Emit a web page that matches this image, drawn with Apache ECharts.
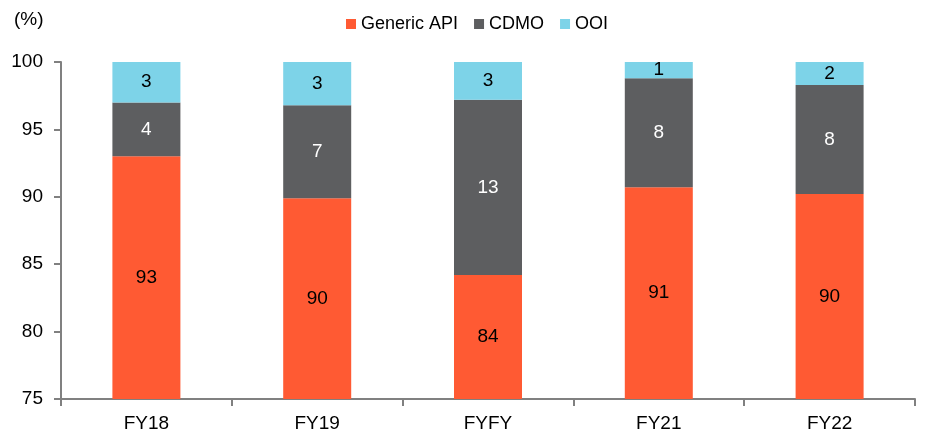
<!DOCTYPE html>
<html><head><meta charset="utf-8">
<script src="https://cdn.jsdelivr.net/npm/echarts@6/dist/echarts.min.js"></script>
<style>html,body{margin:0;padding:0;background:#fff}#c{width:949px;height:436px}</style>
</head><body><div id="c"></div>
<script>
const categories = ['FY18','FY19','FYFY','FY21','FY22'];
const genericAPI = [93.0, 89.9, 84.2, 90.7, 90.2];
const cdmo = [4.0, 6.9, 13.0, 8.1, 8.1];
const ooi = [3.0, 3.2, 2.8, 1.2, 1.7];
const yTicks = [75, 80, 85, 90, 95, 100];

const FONT = '"Liberation Sans", Arial, sans-serif';
const FS = 19;
const chart = echarts.init(document.getElementById('c'));
const lbl = (color) => ({show:true, position:'inside', color:color, fontFamily:FONT, fontSize:FS,
  formatter: p => Math.round(p.value)});
chart.setOption({
  animation:false,
  textStyle:{fontFamily:FONT},
  grid:{left:61, right:34, top:62, bottom:37, containLabel:false},
  legend:{top:10, left:341, itemWidth:10, itemHeight:10, itemGap:16,
    icon:'rect', textStyle:{fontFamily:FONT, fontSize:18, color:'#000', padding:[0,0,0,0]},
    data:['Generic API','CDMO','OOI']},
  graphic:[{type:'text', left:14, top:10, style:{text:'(%)', font:FS+'px '+FONT, fill:'#000'}}],
  xAxis:{type:'category', data:categories,
    axisLine:{lineStyle:{color:'#808080', width:2}},
    axisTick:{show:true, length:7, lineStyle:{color:'#808080', width:2}},
    axisLabel:{color:'#000', fontSize:FS, fontFamily:FONT, margin:15}},
  yAxis:{type:'value', min:75, max:100, interval:5,
    axisLine:{show:true, lineStyle:{color:'#808080', width:2}},
    axisTick:{show:true, length:7, lineStyle:{color:'#808080', width:2}},
    splitLine:{show:false},
    axisLabel:{color:'#000', fontSize:FS, fontFamily:FONT, margin:18,
      formatter: v => yTicks.includes(v) ? String(v) : ''}},
  series:[
    {name:'Generic API', type:'bar', stack:'s', data:genericAPI, barWidth:68,
      itemStyle:{color:'#FF5A33'}, label:lbl('#000')},
    {name:'CDMO', type:'bar', stack:'s', data:cdmo, barWidth:68,
      itemStyle:{color:'#5D5E60'}, label:lbl('#fff')},
    {name:'OOI', type:'bar', stack:'s', data:ooi, barWidth:68,
      itemStyle:{color:'#7DD3E8'}, label:lbl('#000')}
  ]
});
</script></body></html>
